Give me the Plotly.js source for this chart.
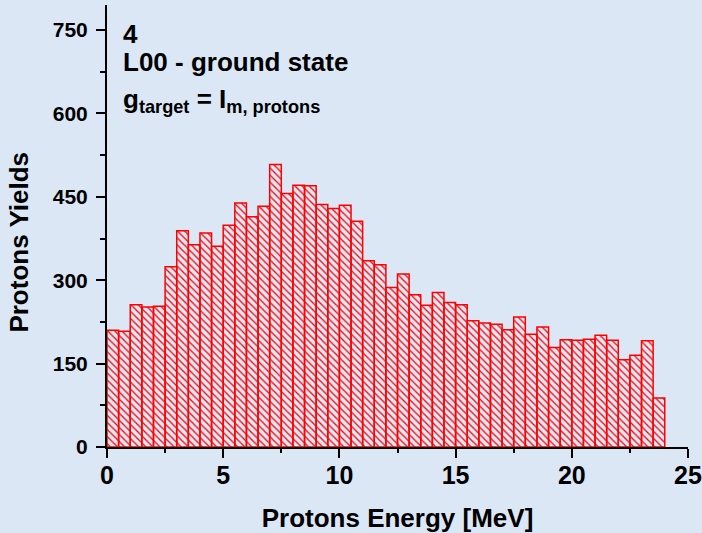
<!DOCTYPE html>
<html>
<head>
<meta charset="utf-8">
<script src="https://cdn.plot.ly/plotly-3.0.1.min.js"></script>
<style>
html,body{margin:0;padding:0;background:#dbe7f5;}
#chart{width:702px;height:533px;}
</style>
</head>
<body>
<div id="chart"></div>
<script>
// Bin centres of the 0.5 MeV energy bins [MeV]
const energyBins = [0.25,0.75,1.25,1.75,2.25,2.75,3.25,3.75,4.25,4.75,
  5.25,5.75,6.25,6.75,7.25,7.75,8.25,8.75,9.25,9.75,
  10.25,10.75,11.25,11.75,12.25,12.75,13.25,13.75,14.25,14.75,
  15.25,15.75,16.25,16.75,17.25,17.75,18.25,18.75,19.25,19.75,
  20.25,20.75,21.25,21.75,22.25,22.75,23.25,23.75];
// Protons yields per bin
const protonYields = [210,208,256,252,253,324,389,364,385,361,
  399,439,414,433,508,456,471,470,436,429,
  435,406,335,328,287,311,274,255,278,260,
  256,227,223,221,211,234,203,216,179,193,
  192,194,201,192,157,165,191,88];
const binWidth = 0.5;
const xTickVals = [0,5,10,15,20,25];
const yTickVals = [0,150,300,450,600,750];
const noteLines = ["4","L00 - ground state","g<sub>target</sub> = I<sub>m, protons</sub>"];

const FONT = "'Liberation Sans', Arial, sans-serif";

const trace = {
  type: 'bar',
  x: energyBins,
  y: protonYields,
  width: energyBins.map(() => binWidth),
  marker: {
    color: 'rgba(0,0,0,0)',
    line: {color: '#ff0000', width: 1.5},
    pattern: {shape: '\\', fgcolor: '#ff0000', bgcolor: 'rgba(0,0,0,0)', size: 5, solidity: 0.25}
  },
  hoverinfo: 'x+y'
};

const layout = {
  width: 702, height: 533,
  margin: {l: 107, r: 14, t: 5, b: 86},
  paper_bgcolor: '#dbe7f5',
  plot_bgcolor: 'rgba(0,0,0,0)',
  bargap: 0,
  showlegend: false,
  font: {family: FONT, color: '#000', weight: 'bold'},
  xaxis: {
    range: [0, 25],
    tickvals: xTickVals,
    ticktext: xTickVals.map(String),
    ticks: 'outside', ticklen: 9, tickwidth: 2, tickcolor: '#000',
    showline: true, linecolor: '#000', linewidth: 2,
    showgrid: false, zeroline: false,
    ticklabelstandoff: -4,
    tickfont: {family: FONT, size: 25, color: '#000', weight: 'bold'},
    minor: {dtick: 2.5, tick0: 0, ticks: 'outside', ticklen: 4, tickwidth: 2, tickcolor: '#000', showgrid: false},
    title: {text: 'Protons Energy [MeV]', font: {family: FONT, size: 26, color: '#000', weight: 'bold'}, standoff: 26},
    fixedrange: true
  },
  yaxis: {
    range: [0, 795],
    tickvals: yTickVals,
    ticktext: yTickVals.map(String),
    ticks: 'outside', ticklen: 9, tickwidth: 2, tickcolor: '#000',
    showline: true, linecolor: '#000', linewidth: 2,
    showgrid: false, zeroline: false,
    ticklabelstandoff: 4,
    tickfont: {family: FONT, size: 21, color: '#000', weight: 'bold'},
    minor: {dtick: 75, tick0: 0, ticks: 'outside', ticklen: 5, tickwidth: 2, tickcolor: '#000', showgrid: false},
    fixedrange: true
  },
  annotations: [
    {text: 'Protons Yields', textangle: -90, xref: 'paper', yref: 'paper',
     x: -0.152, y: 0.464, xanchor: 'center', yanchor: 'middle', showarrow: false,
     font: {family: FONT, size: 26, color: '#000', weight: 'bold'}},
    {text: noteLines[0], xref: 'x', yref: 'y', x: 0.62, y: 742, xanchor: 'left', yanchor: 'middle', showarrow: false,
     font: {family: FONT, size: 26, color: '#000', weight: 'bold'}},
    {text: noteLines[1], xref: 'x', yref: 'y', x: 0.62, y: 693, xanchor: 'left', yanchor: 'middle', showarrow: false,
     font: {family: FONT, size: 26, color: '#000', weight: 'bold'}},
    {text: noteLines[2], xref: 'x', yref: 'y', x: 0.62, y: 624, xanchor: 'left', yanchor: 'middle', showarrow: false,
     font: {family: FONT, size: 26, color: '#000', weight: 'bold'}}
  ]
};

Plotly.newPlot('chart', [trace], layout, {displayModeBar: false, staticPlot: true});
</script>
</body>
</html>
